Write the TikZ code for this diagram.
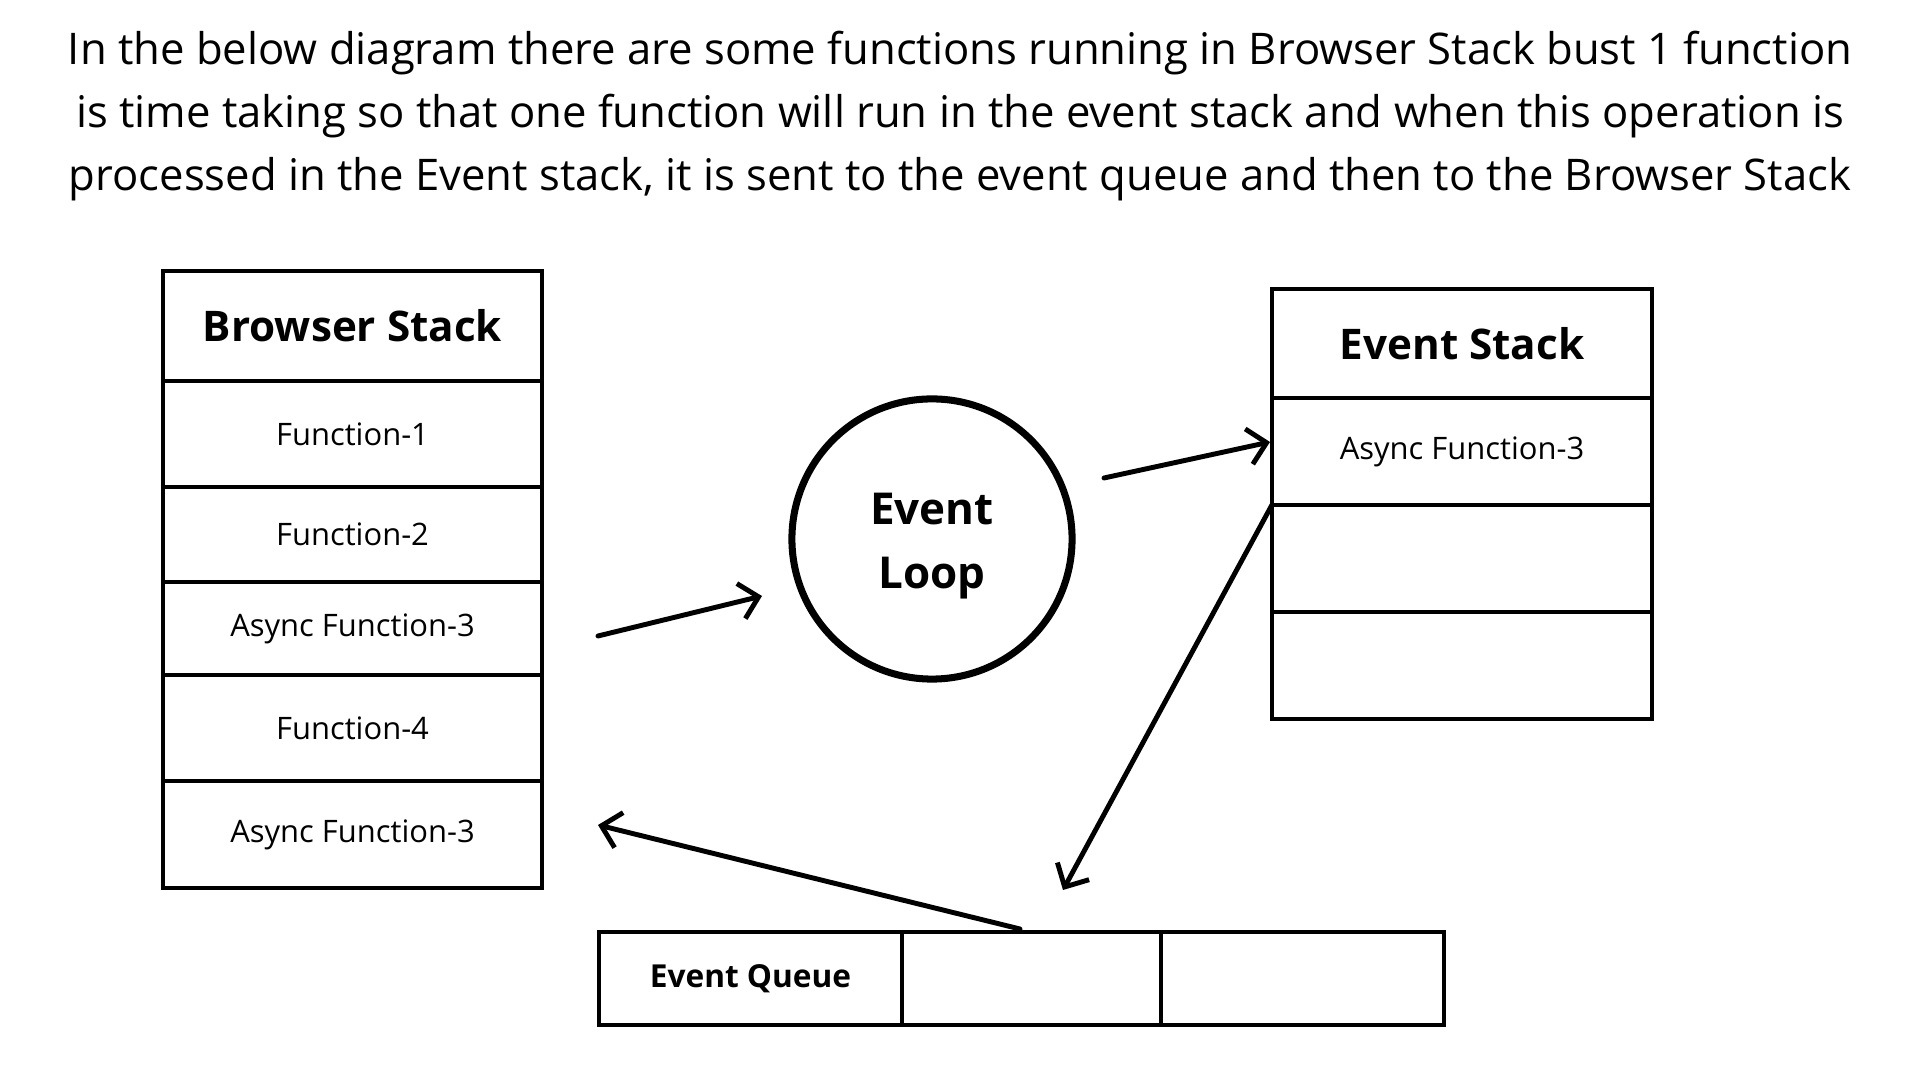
\documentclass[tikz,border=0pt]{standalone}
\usepackage{fontspec}
\setmainfont{Open Sans}
\usepackage{tikz}
\usetikzlibrary{arrows.meta,positioning,calc}

\begin{document}
\begin{tikzpicture}[
    x=0.01cm, y=-0.01cm,
    cell/.style={draw=black, line width=1pt, inner sep=0pt, outer sep=0pt, align=center, font=\fontsize{8.8}{10}\selectfont},
    head/.style={cell, font=\fontsize{12}{14}\bfseries\selectfont},
    loopnode/.style={draw=black, circle, line width=2pt, minimum size=2.8cm, align=center, font=\fontsize{12.5}{18}\bfseries\selectfont},
    arr/.style={-{Straight Barb[length=1.8mm, width=3.6mm]}, line width=1.4pt, line cap=round, draw=black}
]
  \useasboundingbox (0,0) rectangle (1920,1080);

  \node[font=\fontsize{12.4}{18}\selectfont, align=center] (title) at (960,116)
    {In the below diagram there are some functions running in Browser Stack bust 1 function\\
     is time taking so that one function will run in the event stack and when this operation is\\
     processed in the Event stack, it is sent to the event queue and then to the Browser Stack};

  % browser stack
  \node[head, minimum width=3.79cm, minimum height=1.10cm] (bs0) at (352.5,326)   {Browser Stack};
  \node[cell, minimum width=3.79cm, minimum height=1.06cm] (bs1) at (352.5,434)   {Function-1};
  \node[cell, minimum width=3.79cm, minimum height=0.95cm] (bs2) at (352.5,534.5) {Function-2};
  \node[cell, minimum width=3.79cm, minimum height=0.93cm] (bs3) at (352.5,628.5) {Async Function-3};
  \node[cell, minimum width=3.79cm, minimum height=1.06cm] (bs4) at (352.5,728)   {Function-4};
  \node[cell, minimum width=3.79cm, minimum height=1.07cm] (bs5) at (352.5,834.5) {Async Function-3};

  % event stack
  \node[head, minimum width=3.80cm, minimum height=1.09cm] (es0) at (1462,343.5) {Event Stack};
  \node[cell, minimum width=3.80cm, minimum height=1.07cm] (es1) at (1462,451.5) {Async Function-3};
  \node[cell, minimum width=3.80cm, minimum height=1.07cm] (es2) at (1462,558.5) {};
  \node[cell, minimum width=3.80cm, minimum height=1.07cm] (es3) at (1462,665.5) {};

  % event queue
  \node[cell, minimum width=3.03cm, minimum height=0.93cm, font=\fontsize{9}{10}\bfseries\selectfont] (eq0) at (750.5,978.5) {Event Queue};
  \node[cell, minimum width=2.59cm, minimum height=0.93cm] (eq1) at (1031.5,978.5) {};
  \node[cell, minimum width=2.83cm, minimum height=0.93cm] (eq2) at (1302.5,978.5) {};

  \node[loopnode] (loop) at (932,539) {\rule{0pt}{13pt}Event\\Loop};

  % free ends
  \coordinate (out1) at (598,636);
  \coordinate (in1)  at (762,596);
  \coordinate (out2) at (1104,478);
  \coordinate (in2)  at (1270,442);
  \coordinate (in3)  at (1063,890);
  \coordinate (out4) at (1020,929);
  \coordinate (in4)  at (598,825);

  \draw[arr] (out1) -- (in1);
  \draw[arr] (out2) -- (in2);
  \draw[arr] (es1.south west) -- (in3);
  \draw[arr] (out4) -- (in4);
\end{tikzpicture}
\end{document}
